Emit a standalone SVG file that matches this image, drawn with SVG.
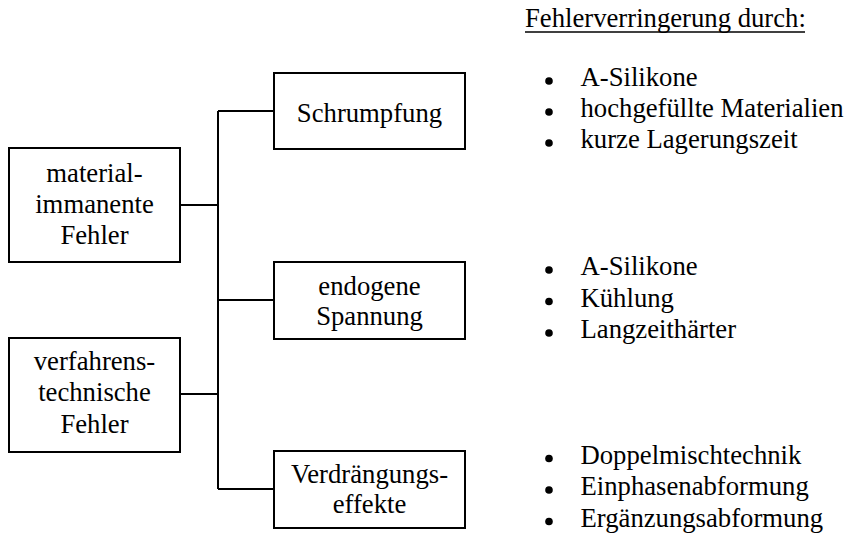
<svg xmlns="http://www.w3.org/2000/svg" width="844" height="534" viewBox="0 0 844 534">
<style>
.box{fill:#fff;stroke:#000;stroke-width:2}
.ln{fill:none;stroke:#000;stroke-width:2}
text{font-family:"Liberation Serif","Times New Roman",serif;font-size:26.7px;fill:#000}
.c{text-anchor:middle}
.dot{fill:#000}
</style>
<rect width="844" height="534" fill="#fff"/>
<g id="connectors">
<path class="ln" d="M180,205 H218 M180,394 H218 M218,111 V489 M218,111 H274 M218,300 H274 M218,489 H274"/>
</g>
<g id="material">
<rect class="box" x="9" y="148" width="171" height="114"/>
<text class="c" x="94.5" y="182">material-</text>
<text class="c" x="94.5" y="213">immanente</text>
<text class="c" x="94.5" y="244">Fehler</text>
</g>
<g id="verfahren">
<rect class="box" x="9" y="338" width="171" height="114"/>
<text class="c" x="94.5" y="370">verfahrens-</text>
<text class="c" x="94.5" y="401">technische</text>
<text class="c" x="94.5" y="433">Fehler</text>
</g>
<g id="schrumpfung">
<rect class="box" x="274" y="73" width="191" height="76"/>
<text class="c" x="369.5" y="122">Schrumpfung</text>
</g>
<g id="endogen">
<rect class="box" x="274" y="262" width="191" height="77"/>
<text class="c" x="369.5" y="295">endogene</text>
<text class="c" x="369.5" y="325">Spannung</text>
</g>
<g id="verdraengung">
<rect class="box" x="274" y="451" width="191" height="77"/>
<text class="c" x="369.5" y="483">Verdrängungs-</text>
<text class="c" x="369.5" y="513">effekte</text>
</g>
<g id="header">
<text x="525" y="27">Fehlerverringerung durch:</text>
<line class="ln" x1="525" y1="32" x2="805" y2="32" style="stroke-width:1.3"/>
</g>
<g id="list1">
<circle class="dot" cx="549" cy="81" r="3.8"/>
<circle class="dot" cx="549" cy="112" r="3.8"/>
<circle class="dot" cx="549" cy="143" r="3.8"/>
<text x="580.5" y="86">A-Silikone</text>
<text x="580.5" y="117">hochgefüllte Materialien</text>
<text x="580.5" y="148">kurze Lagerungszeit</text>
</g>
<g id="list2">
<circle class="dot" cx="549" cy="270" r="3.8"/>
<circle class="dot" cx="549" cy="301.5" r="3.8"/>
<circle class="dot" cx="549" cy="333" r="3.8"/>
<text x="580.5" y="275">A-Silikone</text>
<text x="580.5" y="306.5">Kühlung</text>
<text x="580.5" y="338">Langzeithärter</text>
</g>
<g id="list3">
<circle class="dot" cx="549" cy="458.5" r="3.8"/>
<circle class="dot" cx="549" cy="490" r="3.8"/>
<circle class="dot" cx="549" cy="521.5" r="3.8"/>
<text x="580.5" y="463.5">Doppelmischtechnik</text>
<text x="580.5" y="495">Einphasenabformung</text>
<text x="580.5" y="526.5">Ergänzungsabformung</text>
</g>
</svg>
